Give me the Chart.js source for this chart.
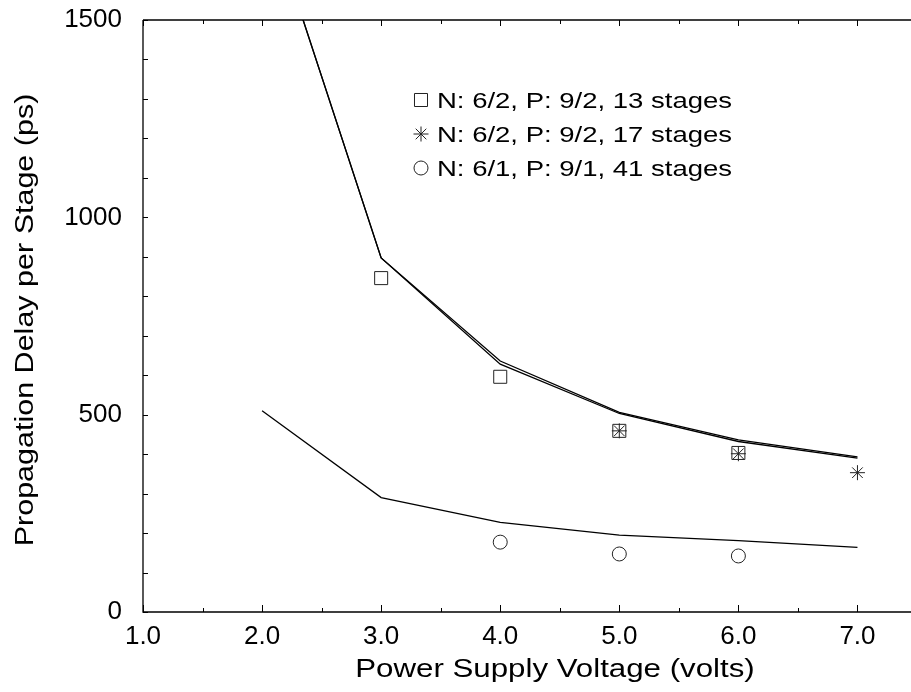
<!DOCTYPE html>
<html>
<head>
<meta charset="utf-8">
<script src="https://cdn.jsdelivr.net/npm/chart.js"></script>
<style>
  html, body { margin: 0; padding: 0; background: #fff; }
  #wrap { width: 911px; height: 692px; overflow: hidden; position: relative; }
  canvas { display: block; }
</style>
</head>
<body>
<div id="wrap"><canvas id="delayChart" width="917" height="692"></canvas></div>
<script>
//data arrays
const simVolts = [2.0, 3.0, 4.0, 5.0, 6.0, 7.0];
const sim13 = [1817, 897, 636, 506, 436, 393];
const sim17 = [1817, 897, 628, 503, 432, 390];
const sim41 = [510, 290, 227, 195, 181, 164];

const meas13Volts = [3.0, 4.0, 5.0, 6.0];
const meas13 = [846, 596, 459, 403];
const meas17Volts = [5.0, 6.0, 7.0];
const meas17 = [459, 401, 353];
const meas41Volts = [4.0, 5.0, 6.0];
const meas41 = [177, 147, 142];

const seriesLabels = ['N: 6/2, P: 9/2, 13 stages', 'N: 6/2, P: 9/2, 17 stages', 'N: 6/1, P: 9/1, 41 stages'];
const xTickValues = [1, 2, 3, 4, 5, 6, 7];
const yTickValues = [0, 500, 1000, 1500];
const xTitle = 'Power Supply Voltage (volts)';
const yTitle = 'Propagation Delay per Stage (ps)';

const FONT = "'Liberation Sans', Arial, Helvetica, sans-serif";

function toPoints(xs, ys) {
    return xs.map((x, i) => ({ x: x, y: ys[i] }));
}

function simLine(ys) {
    return {
        data: toPoints(simVolts, ys),
        showLine: true,
        borderColor: '#000',
        borderWidth: 1.3,
        pointRadius: 0,
        clip: 0,
        tension: 0,
        isLegend: false
    };
}

function measured(xs, ys, label, style, radius) {
    return {
        label: label,
        data: toPoints(xs, ys),
        showLine: false,
        pointStyle: style,
        pointRadius: radius,
        pointHoverRadius: radius,
        pointBorderColor: '#222',
        pointBackgroundColor: 'rgba(0,0,0,0)',
        pointBorderWidth: 1,
        isLegend: true
    };
}

//draw stretched text (the reference fonts are wide)
function wideText(ctx, text, x, y, size, stretch, angle) {
    ctx.save();
    ctx.translate(x, y);
    if (angle) ctx.rotate(angle);
    ctx.scale(stretch, 1);
    ctx.font = size + 'px ' + FONT;
    ctx.fillStyle = '#000';
    ctx.textAlign = 'center';
    ctx.textBaseline = 'alphabetic';
    ctx.fillText(text, 0, 0);
    ctx.restore();
}

function marker(ctx, style, radius, x, y) {
    ctx.save();
    ctx.strokeStyle = '#222';
    ctx.lineWidth = 1;
    if (Chart.helpers && Chart.helpers.drawPoint) {
        ctx.fillStyle = 'rgba(0,0,0,0)';
        Chart.helpers.drawPoint(ctx, { pointStyle: style, radius: radius, rotation: 0, borderWidth: 1 }, x, y);
    }
    ctx.restore();
}

//frame, inward ticks, axis titles and legend
const framePlugin = {
    id: 'frame',
    afterDraw(chart) {
        const ctx = chart.ctx;
        const a = chart.chartArea;
        const xs = chart.scales.x, ys = chart.scales.y;
        ctx.save();
        ctx.strokeStyle = '#000';
        ctx.lineWidth = 1.3;
        ctx.beginPath();
        ctx.moveTo(a.left, a.top);
        ctx.lineTo(a.right, a.top);
        ctx.moveTo(a.left, a.top);
        ctx.lineTo(a.left, a.bottom);
        ctx.lineTo(a.right, a.bottom);
        ctx.stroke();

        ctx.lineWidth = 1;
        ctx.beginPath();
        for (let v = 1; v <= 7.5; v += 0.5) {
            const px = Math.round(xs.getPixelForValue(v)) + 0.5;
            const major = Number.isInteger(v);
            ctx.moveTo(px, a.bottom);
            ctx.lineTo(px, a.bottom - (major ? 7 : 4));
            ctx.moveTo(px, a.top);
            ctx.lineTo(px, a.top + (major ? 6 : 4));
        }
        for (let v = 0; v <= 1500; v += 100) {
            const py = Math.round(ys.getPixelForValue(v)) + 0.5;
            ctx.moveTo(a.left, py);
            ctx.lineTo(a.left + 5, py);
            if (v % 500 === 0) {
                ctx.moveTo(a.right, py);
                ctx.lineTo(a.right - 6, py);
            }
        }
        ctx.stroke();
        ctx.restore();

        wideText(ctx, xTitle, 555, 677, 25, 1.25, 0);
        wideText(ctx, yTitle, 33, 320, 25, 1.22, -Math.PI / 2);

        //legend from the measured datasets
        const legendSets = chart.data.datasets.filter(d => d.isLegend);
        legendSets.forEach((d, i) => {
            const cy = 100 + i * 34;
            marker(ctx, d.pointStyle, d.pointRadius, 421, cy);
            ctx.save();
            ctx.translate(437, cy + 8);
            ctx.scale(1.25, 1);
            ctx.font = '22px ' + FONT;
            ctx.fillStyle = '#000';
            ctx.textAlign = 'left';
            ctx.fillText(d.label, 0, 0);
            ctx.restore();
        });
    }
};

const config = {
    type: 'scatter',
    data: {
        datasets: [
            simLine(sim13),
            simLine(sim17),
            simLine(sim41),
            measured(meas13Volts, meas13, seriesLabels[0], 'rect', 9.2),
            measured(meas17Volts, meas17, seriesLabels[1], 'star', 7.5),
            measured(meas41Volts, meas41, seriesLabels[2], 'circle', 7)
        ]
    },
    options: {
        responsive: false,
        devicePixelRatio: 1,
        animation: false,
        layout: { autoPadding: false, padding: { top: 20, left: 0, right: 0, bottom: 0 } },
        plugins: {
            legend: { display: false },
            title: { display: false },
            tooltip: { enabled: false }
        },
        scales: {
            x: {
                type: 'linear',
                min: 1,
                max: 7.5,
                grid: { display: false, drawTicks: false },
                border: { display: false },
                afterBuildTicks: (scale) => { scale.ticks = xTickValues.map(v => ({ value: v })); },
                afterFit: (scale) => { scale.height = 80; scale.paddingLeft = 0; scale.paddingRight = 0; },
                ticks: {
                    autoSkip: false,
                    maxRotation: 0,
                    padding: 9,
                    color: '#000',
                    font: { family: FONT, size: 26 },
                    callback: (v) => Number(v).toFixed(1)
                }
            },
            y: {
                type: 'linear',
                min: 0,
                max: 1500,
                grid: { display: false, drawTicks: false },
                border: { display: false },
                afterBuildTicks: (scale) => { scale.ticks = yTickValues.map(v => ({ value: v })); },
                afterFit: (scale) => { scale.width = 143; scale.paddingTop = 0; scale.paddingBottom = 0; },
                ticks: {
                    autoSkip: false,
                    padding: 21,
                    color: '#000',
                    font: { family: FONT, size: 26 },
                    callback: (v) => String(v)
                }
            }
        }
    },
    plugins: [framePlugin]
};

new Chart(document.getElementById('delayChart'), config);
</script>
</body>
</html>
